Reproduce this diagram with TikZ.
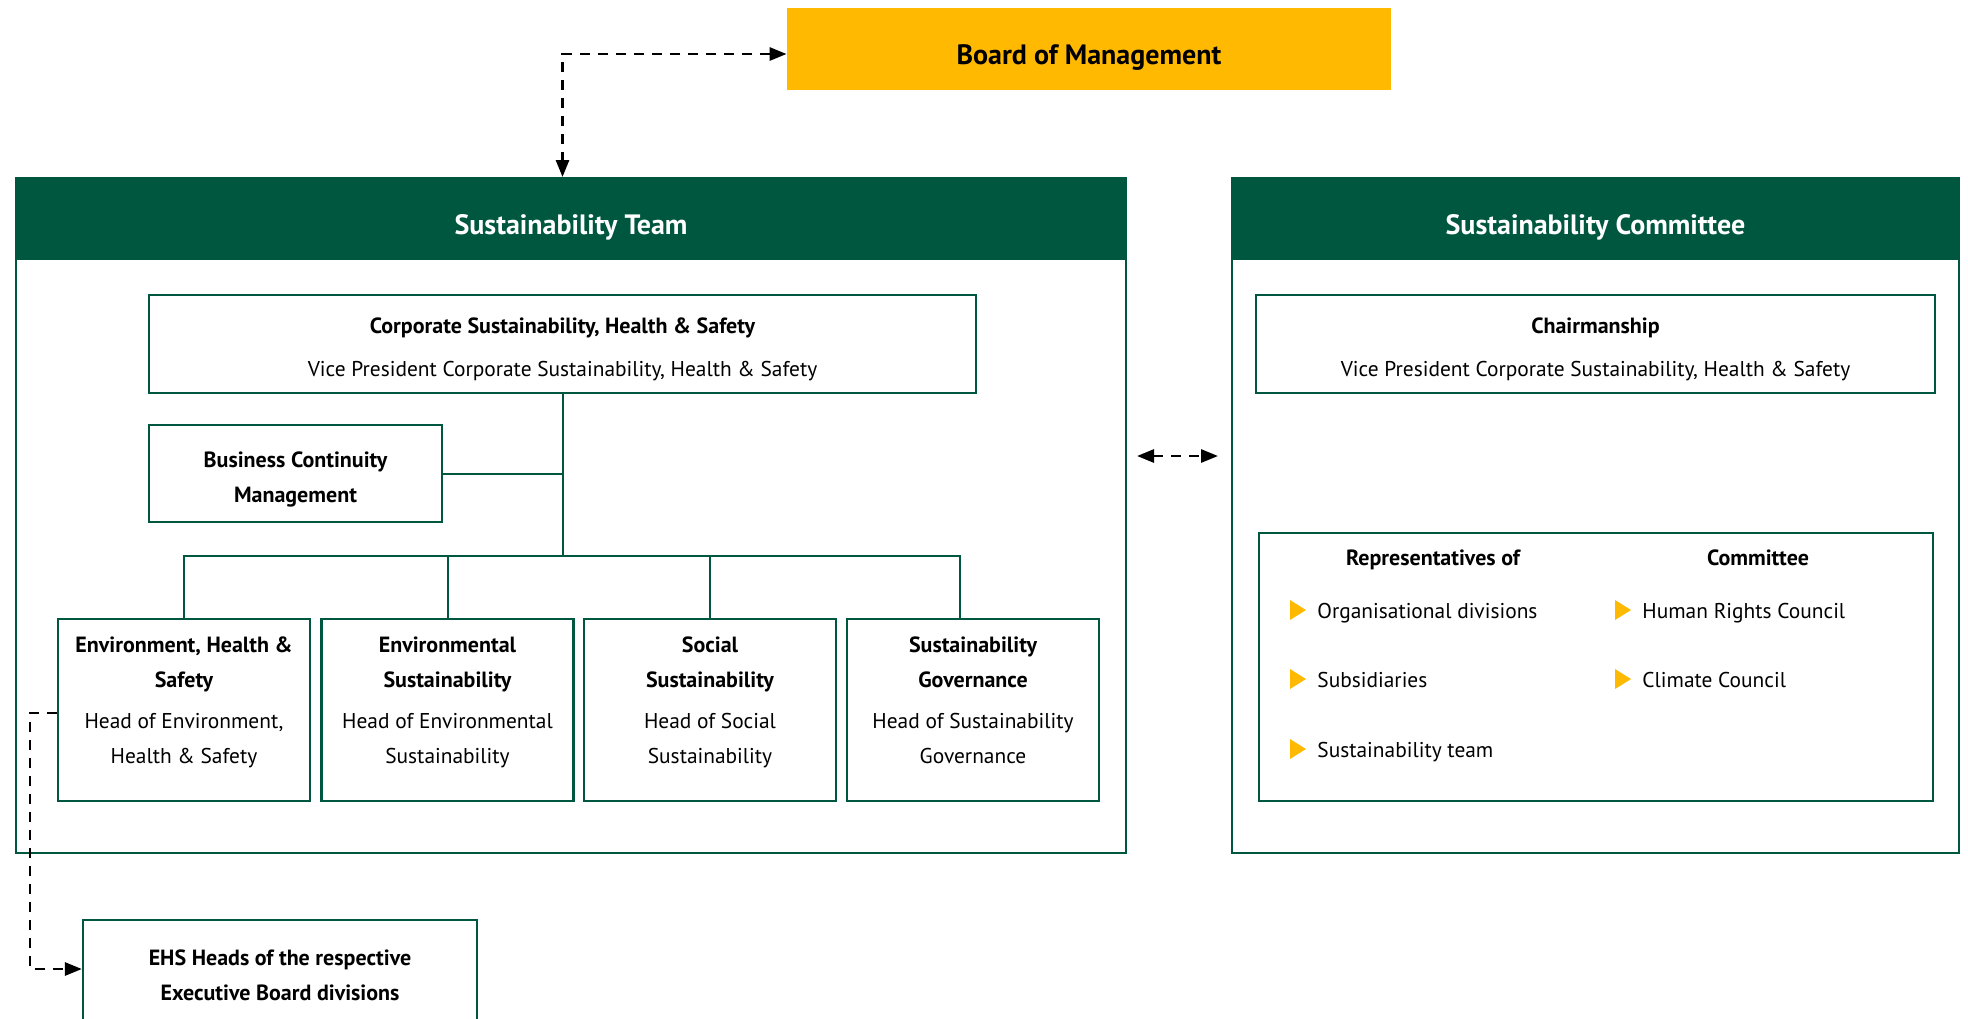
\documentclass[tikz,border=0pt]{standalone}
\usepackage{fontspec}
\setmainfont{PT Sans}
\usetikzlibrary{arrows.meta, positioning}
\definecolor{darkgreen}{RGB}{0,87,63}
\definecolor{boardyellow}{RGB}{255,185,0}
% bold lines inside the boxes run a little larger than the plain ones
\newcommand{\hd}[1]{{\fontsize{11}{17.5}\selectfont\bfseries #1}}

\begin{document}
\begin{tikzpicture}[x=0.5pt, y=-0.5pt,
  >={Triangle[length=8.5pt,width=6.5pt]},
  every node/.style={font=\fontsize{10.7}{17.5}\selectfont, align=center},
  box/.style={draw=darkgreen, line width=1.1pt, inner sep=0pt},
  panel/.style={draw=darkgreen, line width=1pt, minimum width=#1, minimum height=337.5pt},
  head/.style={fill=darkgreen, text=white, font=\fontsize{14}{16}\selectfont\bfseries, minimum width=#1, inner ysep=0pt, text height=28.5pt, text depth=13pt, anchor=north},
  unitbox/.style={box, minimum width=126pt, minimum height=91pt},
  tree/.style={darkgreen, line width=1pt},
  link/.style={dash pattern=on 5pt off 4pt, line width=1.4pt},
  item/.style={anchor=base west, inner sep=0pt}]
\useasboundingbox (0,0) rectangle (1968,1018);
\clip (0,0) rectangle (1968,1018);

% top
\node[fill=boardyellow, minimum width=302pt, inner ysep=0pt, text height=28.25pt, text depth=13pt, font=\fontsize{14}{16}\selectfont\bfseries] (board) at (1089,49) {Board of Management};

% sustainability team
\node[panel=555pt] (team) at (571,515.5) {};
\node[head=555pt] (teamhead) at (team.north) {Sustainability Team};

\node[box, minimum width=413.5pt, minimum height=49pt] (corp) at (562.5,344) {};
\node (corp-text) at ([yshift=-2.75pt]corp.center) {\hd{Corporate Sustainability, Health \& Safety}\\[4pt]Vice President Corporate Sustainability, Health \& Safety};
\node[box, minimum width=146.5pt, minimum height=48.5pt] (bcm) at (295.5,473.5) {};
\node (bcm-text) at ([yshift=-2.75pt]bcm.center) {\hd{Business Continuity}\\\hd{Management}};

\node[unitbox] (ehs) at (184,710) {};
\node[below=5.75pt of ehs.north] (ehs-text) {\hd{Environment, Health \&}\\\hd{Safety}\\[3.25pt]Head of Environment,\\Health \& Safety};
\node[unitbox] (env) at (447.5,710) {};
\node[below=5.75pt of env.north] (env-text) {\hd{Environmental}\\\hd{Sustainability}\\[3.25pt]Head of Environmental\\Sustainability};
\node[unitbox] (soc) at (710,710) {};
\node[below=5.75pt of soc.north] (soc-text) {\hd{Social}\\\hd{Sustainability}\\[3.25pt]Head of Social\\Sustainability};
\node[unitbox] (gov) at (973,710) {};
\node[below=5.75pt of gov.north] (gov-text) {\hd{Sustainability}\\\hd{Governance}\\[3.25pt]Head of Sustainability\\Governance};

% tree lines
\coordinate (hub) at (562.5,556);
\coordinate (gov-top) at ([xshift=-6.5pt]gov.north);
\draw[tree] (corp.south) -- (hub);
\draw[tree] (bcm.east) -- (bcm.east -| corp.south);
\draw[tree] (ehs.north) -- (ehs.north |- hub) -- (hub -| gov-top) -- (gov-top);
\draw[tree] (env.north) -- (env.north |- hub);
\draw[tree] (soc.north) -- (soc.north |- hub);

% sustainability committee
\node[panel=363.5pt] (comm) at (1595.5,515.5) {};
\node[head=363.5pt] (commhead) at (comm.north) {Sustainability Committee};
\node[box, minimum width=339.5pt, minimum height=49pt] (chair) at (1595.5,344) {};
\node (chair-text) at ([yshift=-2.75pt]chair.center) {\hd{Chairmanship}\\[4pt]Vice President Corporate Sustainability, Health \& Safety};
\node[box, minimum width=337pt, minimum height=134pt] (reps) at (1596,667) {};
\node[anchor=base] (reps-head) at (1433,565) {\hd{Representatives of}};
\node[anchor=base] (council-head) at (1758,565) {\hd{Committee}};
\foreach \y/\txt [count=\i] in {618/Organisational divisions, 687/Subsidiaries, 757/Sustainability team} {
  \node[item] (rep\i) at (1317,\y) {\txt};
  \fill[boardyellow] (rep\i.base west) ++(-27,-18) -- ++(16,10) -- ++(-16,10) -- cycle;
}
\foreach \y/\txt [count=\i] in {618/Human Rights Council, 687/Climate Council} {
  \node[item] (council\i) at (1642,\y) {\txt};
  \fill[boardyellow] (council\i.base west) ++(-27,-18) -- ++(16,10) -- ++(-16,10) -- cycle;
}

% EHS heads
\node[box, minimum width=197pt, minimum height=53pt] (heads) at (280,973) {};
\node (heads-text) at ([yshift=-1.25pt]heads.center) {\hd{EHS Heads of the respective}\\\hd{Executive Board divisions}};

% dashed links
\draw[link, <->] ([yshift=-2.5pt]board.west) -| (corp.north |- team.north);
\coordinate (mid) at (0,456);
\draw[link, <->, shorten <=5pt, shorten >=6.5pt] (team.east |- mid) -- (comm.west |- mid);
\draw[link, ->] ([yshift=-1.5pt]ehs.west) -- ++(-27,0) |- ([yshift=2pt]heads.west);
\end{tikzpicture}
\end{document}
